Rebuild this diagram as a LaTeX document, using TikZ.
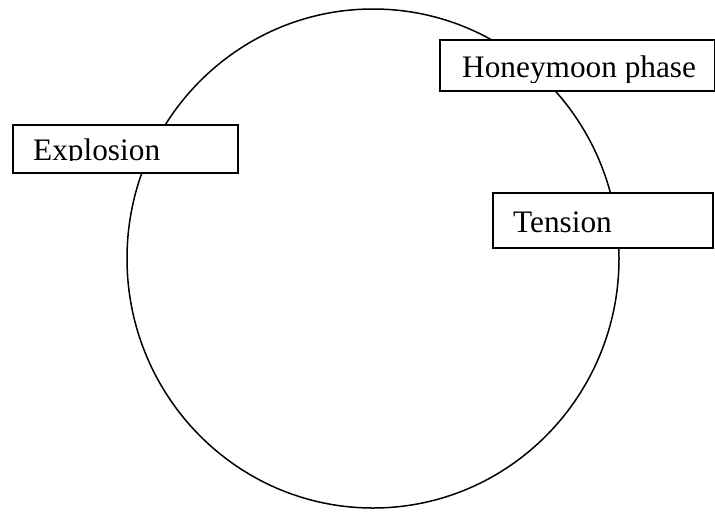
\documentclass[tikz,border=0pt]{standalone}
\usepackage{fontspec}
\setmainfont{Liberation Serif}
\usetikzlibrary{shapes.geometric}
\begin{document}
\begin{tikzpicture}[x=1pt,y=-1pt,
  boxframe/.style={draw, line width=1.8pt, fill=white, inner sep=0pt, anchor=north west},
  lab/.style={anchor=base west, inner sep=0pt, font=\fontsize{31.3}{36}\selectfont}]
\useasboundingbox (0,0) rectangle (715,512);
\node[ellipse, draw, line width=1.5pt, minimum width=492pt, minimum height=499pt, inner sep=0pt] (cycle) at (373,258.5) {};
% boxes
\node[boxframe, minimum width=275pt, minimum height=51pt] (hbox) at (439,39) {};
\node[boxframe, minimum width=225pt, minimum height=48pt] (ebox) at (12,124) {};
\node[boxframe, minimum width=220pt, minimum height=55pt] (tbox) at (492,192) {};
% texts
\begin{scope}
  \clip (439,39) rectangle (714,82);
  \node[lab] (htext) at (462,77) {Honeymoon phase};
\end{scope}
\begin{scope}
  \clip (12,124) rectangle (237,160.5);
  \node[lab] (etext) at (33,160) {Explosion};
\end{scope}
\node[lab] (ttext) at (513,232) {Tension};
\end{tikzpicture}
\end{document}
